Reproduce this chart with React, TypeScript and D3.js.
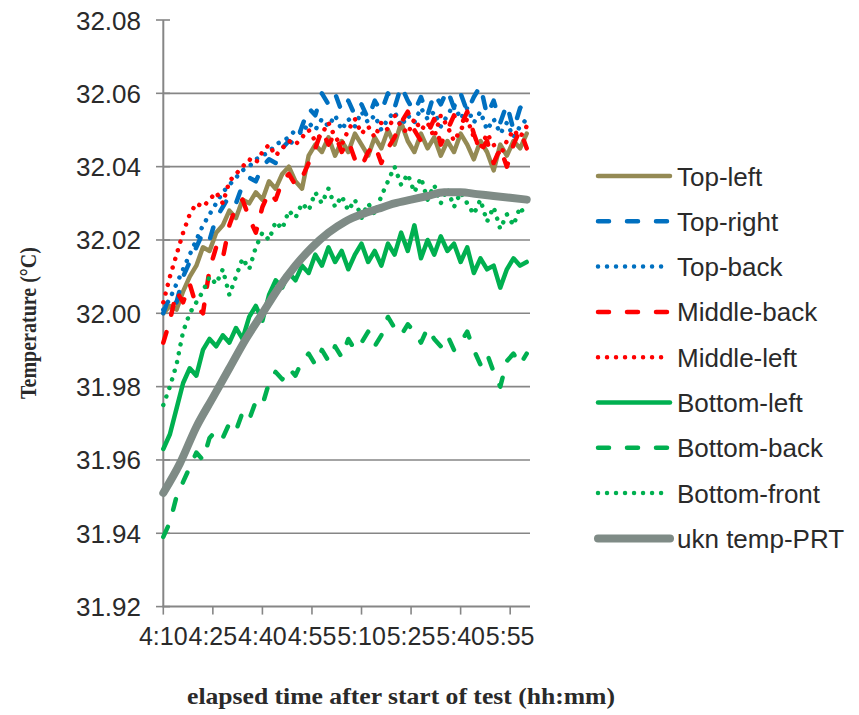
import React from "react";
import * as d3 from "d3";

// elapsed minutes after 4:10 for each sample (2-minute sampling)
const minutes = [0,2,4,6,8,10,12,14,16,18,20,22,24,26,28,30,32,34,36,38,40,42,44,46,48,50,52,54,56,58,60,62,64,66,68,70,72,74,76,78,80,82,84,86,88,90,92,94,96,98,100,102,104,106,108,110];
const prtMinutes = [0,5,10,15,20,25,30,35,40,45,50,55,60,65,70,75,80,85,90,95,100,105,110];

const topLeft = [32.000,32.002,32.001,32.006,32.010,32.013,32.018,32.017,32.022,32.024,32.028,32.026,32.031,32.030,32.033,32.031,32.036,32.034,32.038,32.040,32.036,32.034,32.043,32.046,32.044,32.048,32.043,32.047,32.044,32.049,32.046,32.043,32.048,32.045,32.050,32.046,32.052,32.047,32.044,32.049,32.045,32.048,32.043,32.047,32.044,32.049,32.046,32.042,32.047,32.044,32.039,32.046,32.043,32.047,32.045,32.049];
const topRight = [32.000,32.005,32.003,32.010,32.014,32.018,32.022,32.020,32.026,32.029,32.032,32.030,32.035,32.037,32.036,32.040,32.042,32.041,32.045,32.047,32.046,32.051,32.056,32.054,32.060,32.057,32.060,32.055,32.058,32.054,32.057,32.053,32.058,32.055,32.060,32.056,32.062,32.058,32.055,32.059,32.054,32.060,32.057,32.061,32.056,32.060,32.055,32.059,32.062,32.054,32.058,32.052,32.057,32.050,32.056,32.058];
const topBack = [32.001,32.004,32.008,32.012,32.016,32.020,32.024,32.027,32.030,32.033,32.035,32.037,32.039,32.040,32.042,32.043,32.044,32.046,32.047,32.048,32.050,32.049,32.052,32.050,32.053,32.051,32.054,32.050,32.053,32.051,32.055,32.052,32.054,32.050,32.053,32.055,32.051,32.054,32.052,32.056,32.053,32.055,32.051,32.054,32.057,32.053,32.056,32.052,32.055,32.050,32.053,32.049,32.052,32.048,32.051,32.053];
const middleBack = [31.992,31.998,32.006,32.003,32.008,32.002,32.000,32.012,32.018,32.015,32.024,32.029,32.031,32.026,32.022,32.029,32.033,32.031,32.036,32.038,32.035,32.037,32.041,32.045,32.050,32.046,32.049,32.044,32.047,32.042,32.040,32.044,32.046,32.041,32.045,32.048,32.052,32.055,32.050,32.047,32.049,32.053,32.046,32.050,32.054,32.051,32.055,32.049,32.044,32.047,32.041,32.045,32.040,32.046,32.050,32.045];
const middleLeft = [32.003,32.010,32.016,32.022,32.027,32.030,32.029,32.031,32.033,32.030,32.036,32.038,32.040,32.042,32.041,32.044,32.046,32.043,32.045,32.047,32.046,32.048,32.050,32.047,32.049,32.052,32.048,32.046,32.050,32.053,32.049,32.051,32.048,32.052,32.050,32.054,32.051,32.049,32.053,32.050,32.052,32.048,32.054,32.051,32.047,32.050,32.053,32.048,32.045,32.049,32.046,32.043,32.047,32.050,32.048,32.051];
const bottomLeft = [31.963,31.967,31.974,31.981,31.985,31.983,31.990,31.993,31.991,31.994,31.992,31.996,31.993,31.999,32.002,31.998,32.005,32.009,32.007,32.011,32.009,32.013,32.011,32.016,32.013,32.018,32.014,32.017,32.012,32.016,32.019,32.014,32.017,32.013,32.019,32.016,32.022,32.017,32.024,32.015,32.020,32.016,32.021,32.017,32.019,32.014,32.018,32.011,32.015,32.012,32.013,32.007,32.012,32.015,32.013,32.014];
const bottomBack = [31.939,31.943,31.950,31.954,31.958,31.962,31.960,31.966,31.968,31.966,31.970,31.968,31.973,31.971,31.976,31.975,31.981,31.984,31.982,31.985,31.983,31.987,31.989,31.986,31.990,31.987,31.991,31.988,31.993,31.990,31.992,31.995,31.991,31.994,31.999,31.996,31.994,31.997,31.995,31.992,31.996,31.993,31.991,31.994,31.990,31.992,31.995,31.990,31.986,31.989,31.984,31.980,31.987,31.989,31.986,31.989];
const bottomFront = [31.975,31.980,31.986,31.995,32.000,32.003,32.006,32.010,32.008,32.012,32.005,32.010,32.015,32.012,32.018,32.022,32.020,32.025,32.023,32.028,32.026,32.030,32.028,32.033,32.030,32.034,32.029,32.032,32.028,32.031,32.026,32.030,32.027,32.032,32.036,32.040,32.035,32.038,32.033,32.037,32.031,32.035,32.030,32.034,32.029,32.033,32.030,32.027,32.031,32.025,32.029,32.023,32.027,32.024,32.029,32.026];
const uknPRT = [31.951,31.959,31.969,31.977,31.985,31.993,32.000,32.007,32.013,32.018,32.022,32.025,32.027,32.0285,32.030,32.031,32.032,32.033,32.033,32.0325,32.032,32.0315,32.031];

const seriesNames = ["Top-left","Top-right","Top-back","Middle-back","Middle-left","Bottom-left","Bottom-back","Bottom-front","ukn temp-PRT"];
const yTicks = [31.92,31.94,31.96,31.98,32.00,32.02,32.04,32.06,32.08];
const tickMinutes = [0,15,30,45,60,75,90,105];
const tickLabels = ["4:10","4:25","4:40","4:55","5:10","5:25","5:40","5:55"];

const KHAKI = "#948A54";
const BLUE = "#0070C0";
const RED = "#FF0000";
const GREEN = "#00B050";
const GRAY = "#7F8B86";
const DASH = "11 18";
const DOT = "0.01 9";

const styles = [
  { color: KHAKI, dash: null, width: 4.5 },
  { color: BLUE, dash: DASH, width: 4.5 },
  { color: BLUE, dash: DOT, width: 4.5 },
  { color: RED, dash: DASH, width: 4.5 },
  { color: RED, dash: DOT, width: 4.5 },
  { color: GREEN, dash: null, width: 4.5 },
  { color: GREEN, dash: DASH, width: 4.5 },
  { color: GREEN, dash: DOT, width: 4.5 },
  { color: GRAY, dash: null, width: 8 },
];

export default function App() {
  const x = d3.scaleLinear().domain([0, 111]).range([163.3, 530]);
  const y = d3.scaleLinear().domain([31.92, 32.08]).range([606.6, 20]);
  const AXIS = "#868686";
  const TEXT = "#2a2a2a";

  const data = [topLeft, topRight, topBack, middleBack, middleLeft, bottomLeft, bottomBack, bottomFront];
  const line = d3.line<[number, number]>().x(d => x(d[0])).y(d => y(d[1])).curve(d3.curveLinear);
  const smooth = d3.line<[number, number]>().x(d => x(d[0])).y(d => y(d[1])).curve(d3.curveMonotoneX);

  const paths = data.map((vals, i) => line(vals.map((v, k) => [minutes[k], v] as [number, number])) || "");
  const prtPath = smooth(uknPRT.map((v, k) => [prtMinutes[k], v] as [number, number])) || "";
  const allPaths = [...paths, prtPath];

  const legX0 = 598, legX1 = 670, legY0 = 176, legStep = 45.3;

  return (
    <svg width={859} height={715} style={{ position: "absolute", left: 0, top: 0, background: "#fff" }}
      fontFamily="'Liberation Sans', Arial, sans-serif">
      {/* gridlines */}
      {yTicks.filter(t => t > 31.93 && t < 32.07).map(t => (
        <line key={"g" + t} x1={163.3} x2={530} y1={y(t)} y2={y(t)} stroke={AXIS} strokeWidth={1.6} />
      ))}
      {/* y axis */}
      <line x1={163.3} x2={163.3} y1={y(32.08)} y2={y(31.92)} stroke={AXIS} strokeWidth={2} />
      {yTicks.map(t => (
        <line key={"yt" + t} x1={156} x2={170} y1={y(t)} y2={y(t)} stroke={AXIS} strokeWidth={1.6} />
      ))}
      {yTicks.map(t => (
        <text key={"yl" + t} x={141} y={y(t) + 9.5} textAnchor="end" fontSize={26} fill={TEXT}>{t.toFixed(2)}</text>
      ))}
      {/* x axis */}
      <line x1={162.3} x2={530} y1={y(31.92)} y2={y(31.92)} stroke={AXIS} strokeWidth={2} />
      {tickMinutes.map(m => (
        <line key={"xt" + m} x1={x(m)} x2={x(m)} y1={y(31.92)} y2={y(31.92) + 8} stroke={AXIS} strokeWidth={1.6} />
      ))}
      {tickMinutes.map((m, i) => (
        <text key={"xl" + m} x={x(m)} y={645} textAnchor="middle" fontSize={25} fill={TEXT}>{tickLabels[i]}</text>
      ))}
      {/* series */}
      {allPaths.map((p, i) => (
        <path key={"s" + i} d={p} fill="none" stroke={styles[i].color} strokeWidth={styles[i].width}
          strokeDasharray={styles[i].dash || undefined} strokeLinecap="round" strokeLinejoin="round" />
      ))}
      {/* legend */}
      {seriesNames.map((n, i) => {
        const ly = legY0 + i * legStep;
        return (
          <g key={"lg" + i}>
            <line x1={legX0} x2={legX1} y1={ly} y2={ly} stroke={styles[i].color} strokeWidth={styles[i].width}
              strokeDasharray={styles[i].dash || undefined} strokeLinecap="round" />
            <text x={677} y={ly + 9.5} fontSize={26} fill={TEXT}>{n}</text>
          </g>
        );
      })}
      {/* axis titles */}
      <text x={401} y={704} textAnchor="middle" fontFamily="'Liberation Serif', 'Times New Roman', serif"
        fontWeight="bold" fontSize={24} fill={TEXT} textLength={428} lengthAdjust="spacingAndGlyphs">elapsed time after start of test (hh:mm)</text>
      <text transform="translate(36,323) rotate(-90)" textAnchor="middle"
        fontFamily="'Liberation Serif', 'Times New Roman', serif" fontWeight="bold" fontSize={24} fill={TEXT}
        textLength={152} lengthAdjust="spacingAndGlyphs">Temperature (°C)</text>
    </svg>
  );
}
